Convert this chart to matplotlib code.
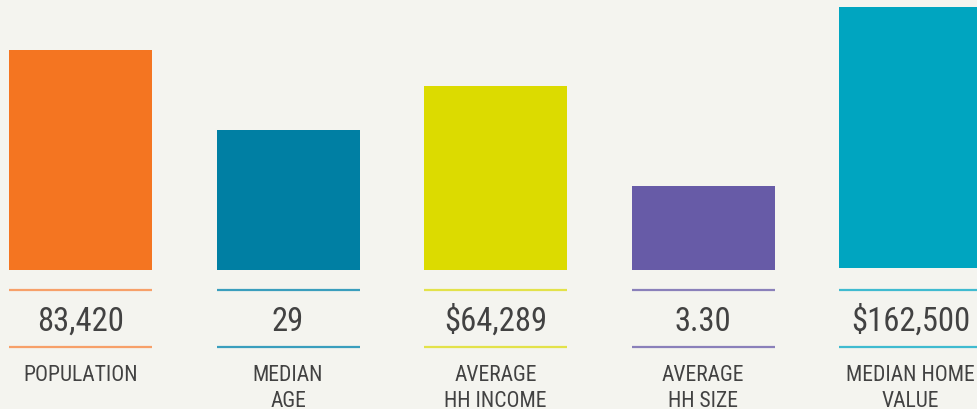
import matplotlib
matplotlib.use("Agg")
import matplotlib.pyplot as plt

categories = ["POPULATION", "MEDIAN\nAGE", "AVERAGE\nHH INCOME", "AVERAGE\nHH SIZE", "MEDIAN HOME\nVALUE"]
value_labels = ["83,420", "29", "$64,289", "3.30", "$162,500"]
values = [83420, 29, 64289, 3.30, 162500]
# display heights of the infographic bars (not proportional to values)
bar_heights = [220, 140, 184, 84, 261]
bar_bottoms = [0, 0, 0, 0, 2]
colors = ["#f47521", "#007fa3", "#dcdb00", "#675ba7", "#00a5c0"]
line_colors = ["#f7a069", "#3a9ebd", "#e3e24a", "#8a80ba", "#40bbd0"]

W, H = 977, 409
fig = plt.figure(figsize=(W / 100, H / 100), dpi=100)
bg = "#f4f4ef"
fig.patch.set_facecolor(bg)
ax = fig.add_axes([0, 0, 1, 1])
ax.set_facecolor(bg)

spacing = 207.5
bw = 143 / spacing
c0 = 80.5 / spacing
ax.set_xlim(-c0, (W - 80.5) / spacing)
ax.set_ylim(-(H - 270), 270)
ax.axis("off")

x = list(range(len(categories)))
ax.bar(x, bar_heights, bottom=bar_bottoms, width=bw, color=colors, align="center", linewidth=0)

fam = ["Roboto Condensed", "DejaVu Sans"]
txt = "#424242"
for i in x:
    left, right = i - bw / 2, i + bw / 2
    ax.plot([left, right], [-20, -20], color=line_colors[i], lw=1.6, solid_capstyle="butt")
    ax.plot([left, right], [-77, -77], color=line_colors[i], lw=1.6, solid_capstyle="butt")
    ax.text(i, -61, value_labels[i], ha="center", va="baseline", fontsize=23.5,
            color=txt, family=fam)
    for j, line in enumerate(categories[i].split("\n")):
        ax.text(i, -111 - 26 * j, line, ha="center", va="baseline", fontsize=15.6,
                color=txt, family=fam)

fig.savefig("out.png", dpi=100, facecolor=bg)
